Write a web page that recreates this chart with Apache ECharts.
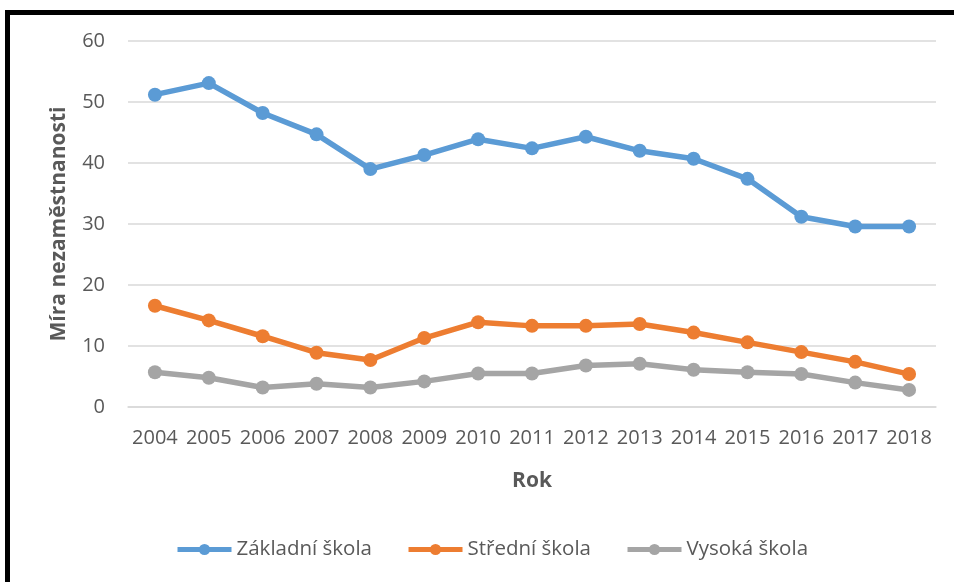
<!DOCTYPE html>
<html>
<head>
<meta charset="utf-8">
<script src="https://cdn.jsdelivr.net/npm/echarts@6/dist/echarts.min.js"></script>
<style>
	html, body { margin: 0; padding: 0; background: #fff; }
	#chart { width: 954px; height: 582px; }
</style>
</head>
<body>
<div id="chart"></div>
<script>
	// 数据
	var years = ['2004', '2005', '2006', '2007', '2008', '2009', '2010', '2011', '2012', '2013', '2014', '2015', '2016', '2017', '2018'];
	var zakladni = [51.2, 53.1, 48.2, 44.7, 39.0, 41.3, 43.9, 42.4, 44.3, 42.0, 40.7, 37.4, 31.2, 29.6, 29.6];
	var stredni = [16.6, 14.2, 11.6, 8.9, 7.7, 11.3, 13.9, 13.3, 13.3, 13.6, 12.2, 10.6, 9.0, 7.4, 5.4];
	var vysoka = [5.7, 4.8, 3.2, 3.8, 3.2, 4.2, 5.5, 5.5, 6.8, 7.1, 6.1, 5.7, 5.4, 4.0, 2.8];
	var seriesNames = ['Základní škola', 'Střední škola', 'Vysoká škola'];
	var colors = ['#5B9BD5', '#ED7D31', '#A5A5A5'];

	var font = '"Open Sans", "Noto Sans", sans-serif';

	function lineSeries(name, data, color) {
		return {
			name: name,
			type: 'line',
			data: data,
			symbol: 'circle',
			symbolSize: 14,
			lineStyle: { width: 5.5, color: color },
			itemStyle: { color: color },
			emphasis: { disabled: true }
		};
	}

	var chart = echarts.init(document.getElementById('chart'));
	var option = {
		animation: false,
		grid: { left: 128, right: 18, top: 41, bottom: 175, containLabel: false },
		legend: {
			bottom: 17,
			left: 170,
			itemWidth: 54,
			itemHeight: 14,
			itemGap: 34,
			lineStyle: { width: 5 },
			textStyle: { color: '#595959', fontSize: 20.5, fontFamily: font },
			data: seriesNames
		},
		xAxis: {
			type: 'category',
			data: years,
			boundaryGap: true,
			name: 'Rok',
			nameLocation: 'middle',
			nameGap: 64,
			nameTextStyle: { color: '#595959', fontSize: 21, fontWeight: 'bold', fontFamily: font },
			axisLine: { lineStyle: { color: '#D9D9D9', width: 1.5 } },
			axisTick: { show: false },
			axisLabel: { color: '#595959', fontSize: 20, fontFamily: font, margin: 21, interval: 0, hideOverlap: false }
		},
		yAxis: {
			type: 'value',
			min: 0,
			max: 60,
			interval: 10,
			name: 'Míra nezaměstnanosti',
			nameLocation: 'middle',
			nameGap: 58,
			nameTextStyle: { color: '#595959', fontSize: 21, fontWeight: 'bold', fontFamily: font },
			axisLine: { show: false },
			axisTick: { show: false },
			axisLabel: { color: '#595959', fontSize: 20, fontFamily: font, margin: 23 },
			splitLine: { lineStyle: { color: '#D9D9D9', width: 1.5 } }
		},
		graphic: [{
			type: 'rect',
			shape: { x: 7.5, y: 12.5, width: 1200, height: 800 },
			style: { fill: 'none', stroke: '#000', lineWidth: 5 },
			silent: true
		}],
		series: [
			lineSeries(seriesNames[0], zakladni, colors[0]),
			lineSeries(seriesNames[1], stredni, colors[1]),
			lineSeries(seriesNames[2], vysoka, colors[2])
		]
	};
	chart.setOption(option);
</script>
</body>
</html>
